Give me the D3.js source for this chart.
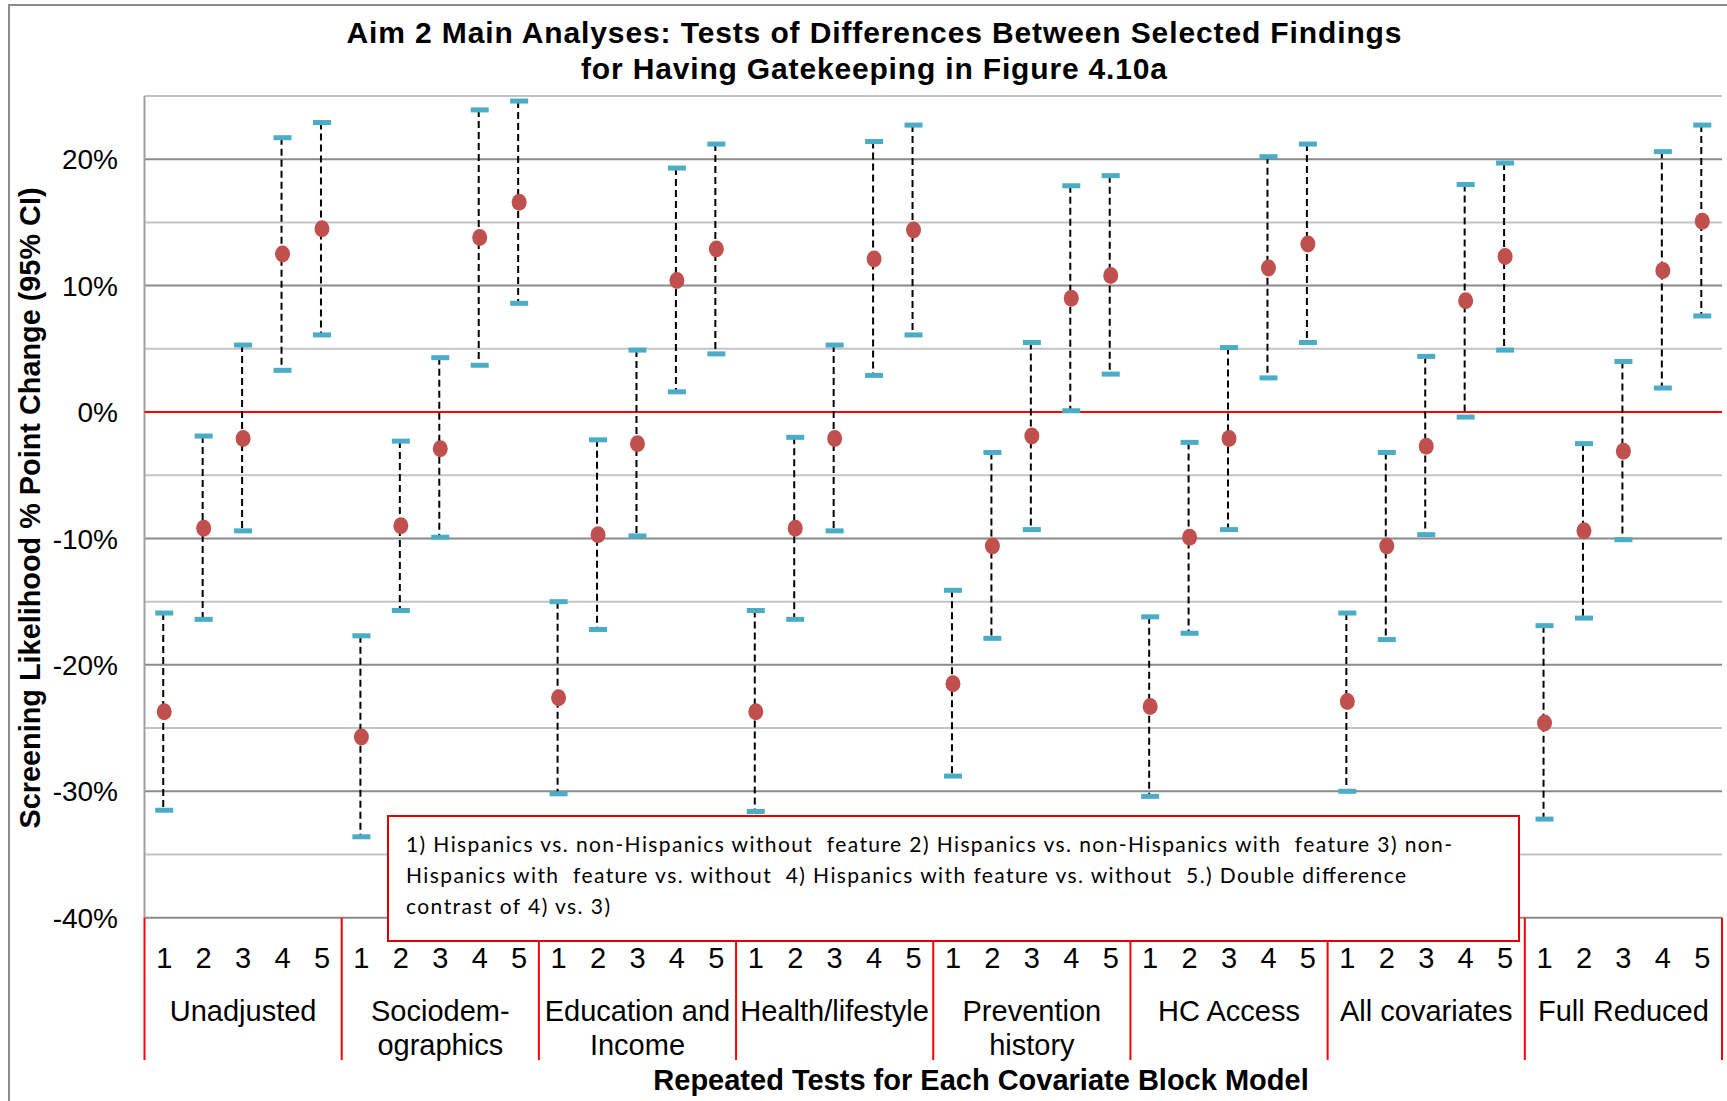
<!DOCTYPE html>
<html>
<head>
<meta charset="utf-8">
<script src="https://cdn.jsdelivr.net/npm/d3@7"></script>
<style>
  body { margin: 0; background: #fff; }
  svg { display: block; }
</style>
</head>
<body>
<div id="chart"></div>
<script>
// Covariate block models (x-axis groups)
const groups = ['Unadjusted', 'Sociodem-\nographics', 'Education and\nIncome', 'Health/lifestyle',
  'Prevention\nhistory', 'HC Access', 'All covariates', 'Full Reduced'];
const tests = ['1', '2', '3', '4', '5'];

// Point estimates (% point change), 5 tests per group
const estimates = [
  -23.7, -9.2, -2.1, 12.5, 14.5,
  -25.7, -9.0, -2.9, 13.8, 16.6,
  -22.6, -9.7, -2.5, 10.4, 12.9,
  -23.7, -9.2, -2.1, 12.1, 14.4,
  -21.5, -10.6, -1.9, 9.0, 10.8,
  -23.3, -9.9, -2.1, 11.4, 13.3,
  -22.9, -10.6, -2.7, 8.8, 12.3,
  -24.6, -9.4, -3.1, 11.2, 15.1
];
// Lower 95% CI bounds
const lowerCI = [
  -31.5, -16.4, -9.4, 3.3, 6.1,
  -33.6, -15.7, -9.9, 3.7, 8.6,
  -30.2, -17.2, -9.8, 1.6, 4.6,
  -31.6, -16.4, -9.4, 2.9, 6.1,
  -28.8, -17.9, -9.3, 0.1, 3.0,
  -30.4, -17.5, -9.3, 2.7, 5.5,
  -30.0, -18.0, -9.7, -0.4, 4.9,
  -32.2, -16.3, -10.1, 1.9, 7.6
];
// Upper 95% CI bounds
const upperCI = [
  -15.9, -1.9, 5.3, 21.7, 22.9,
  -17.7, -2.3, 4.3, 23.9, 24.6,
  -15.0, -2.2, 4.9, 19.3, 21.2,
  -15.7, -2.0, 5.3, 21.4, 22.7,
  -14.1, -3.2, 5.5, 17.9, 18.7,
  -16.2, -2.4, 5.1, 20.2, 21.2,
  -15.9, -3.2, 4.4, 18.0, 19.7,
  -16.9, -2.5, 4.0, 20.6, 22.7
];

const yTicks = [20, 10, 0, -10, -20, -30, -40];
const yGrid = [25, 20, 15, 10, 5, -5, -10, -15, -20, -25, -30, -35, -40];

const legendLines = [
  '1) Hispanics vs. non-Hispanics without  feature 2) Hispanics vs. non-Hispanics with  feature 3) non-',
  'Hispanics with  feature vs. without  4) Hispanics with feature vs. without  5.) Double difference',
  'contrast of 4) vs. 3)'
];
const legendWidths = [1046, 1000, 204];

// Build one record per error bar
const data = estimates.map((v, i) => ({
  id: i,
  group: groups[Math.floor(i / 5)],
  test: tests[i % 5],
  est: v,
  lo: lowerCI[i],
  hi: upperCI[i]
}));

const width = 1727;
const height = 1101;
const plot = {left: 144.5, right: 1722, top: 96, bottom: 917.7};

const svg = d3.select('#chart')
  .append('svg')
  .attr('width', width)
  .attr('height', height)
  .style('font-family', '"Liberation Sans", Arial, sans-serif');

const yScale = d3.scaleLinear()
  .domain([-40, 25])
  .range([plot.bottom, plot.top]);

const xScale = d3.scaleBand()
  .domain(data.map(d => d.id))
  .range([plot.left, plot.right])
  .padding(0);

const groupScale = d3.scaleBand()
  .domain(groups)
  .range([plot.left, plot.right])
  .padding(0);

// outer chart frame
svg.append('path')
  .attr('d', `M9,${height} V5 H${width}`)
  .attr('fill', 'none')
  .attr('stroke', '#8c8c8c')
  .attr('stroke-width', 2);

// Gridlines
svg.append('g')
  .selectAll('line')
  .data(yGrid)
  .join('line')
  .attr('x1', plot.left)
  .attr('x2', plot.right)
  .attr('y1', d => yScale(d))
  .attr('y2', d => yScale(d))
  .attr('stroke', d => d % 10 === 0 ? '#8a8a8a' : '#c4c4c4')
  .attr('stroke-width', 2);

// left axis line
svg.append('line')
  .attr('x1', plot.left).attr('x2', plot.left)
  .attr('y1', plot.top).attr('y2', plot.bottom)
  .attr('stroke', '#a0a0a0')
  .attr('stroke-width', 2);

// Zero reference line
svg.append('line')
  .attr('x1', plot.left).attr('x2', plot.right)
  .attr('y1', yScale(0)).attr('y2', yScale(0))
  .attr('stroke', '#ff0000')
  .attr('stroke-width', 2);

// y tick labels
svg.append('g')
  .selectAll('text')
  .data(yTicks)
  .join('text')
  .attr('x', 118)
  .attr('y', d => yScale(d))
  .attr('dy', '0.36em')
  .attr('text-anchor', 'end')
  .style('font-size', '28px')
  .text(d => d + '%');

// Group separators (red)
const sepX = groups.map(g => groupScale(g)).concat([plot.right]);
svg.append('g')
  .selectAll('line')
  .data(sepX)
  .join('line')
  .attr('x1', d => d).attr('x2', d => d)
  .attr('y1', plot.bottom).attr('y2', 1060)
  .attr('stroke', '#ff0000')
  .attr('stroke-width', 2);

// Legend box
const legend = svg.append('g');
legend.append('rect')
  .attr('x', 388)
  .attr('y', 816)
  .attr('width', 1131)
  .attr('height', 125)
  .attr('fill', '#fff')
  .attr('stroke', '#e00000')
  .attr('stroke-width', 2);
legend.selectAll('text')
  .data(legendLines)
  .join('text')
  .attr('x', 406)
  .attr('y', (d, i) => 852 + i * 31)
  .attr('textLength', (d, i) => legendWidths[i])
  .attr('lengthAdjust', 'spacing')
  .style('font-family', 'Lato, "Open Sans", sans-serif')
  .style('font-size', '21px')
  .style('white-space', 'pre')
  .text(d => d);

// Error bars: dashed whiskers
const bars = svg.append('g');
bars.selectAll('line')
  .data(data)
  .join('line')
  .attr('x1', d => xScale(d.id) + xScale.bandwidth() / 2 - 1)
  .attr('x2', d => xScale(d.id) + xScale.bandwidth() / 2 - 1)
  .attr('y1', d => yScale(d.hi))
  .attr('y2', d => yScale(d.lo))
  .attr('stroke', '#000')
  .attr('stroke-width', 2)
  .attr('stroke-dasharray', '7,4');

// CI caps
const caps = data.flatMap(d => [{id: d.id, v: d.lo}, {id: d.id, v: d.hi}]);
svg.append('g')
  .selectAll('rect')
  .data(caps)
  .join('rect')
  .attr('x', d => xScale(d.id) + xScale.bandwidth() / 2 - 9)
  .attr('y', d => yScale(d.v) - 2.5)
  .attr('width', 18)
  .attr('height', 5)
  .attr('fill', '#4bacc6');

// Point estimates
svg.append('g')
  .selectAll('ellipse')
  .data(data)
  .join('ellipse')
  .attr('cx', d => xScale(d.id) + xScale.bandwidth() / 2)
  .attr('cy', d => yScale(d.est))
  .attr('rx', 7.5)
  .attr('ry', 8.5)
  .attr('fill', '#c0504d');

// Test numbers under each bar
svg.append('g')
  .selectAll('text')
  .data(data)
  .join('text')
  .attr('x', d => xScale(d.id) + xScale.bandwidth() / 2)
  .attr('y', 968)
  .attr('text-anchor', 'middle')
  .style('font-size', '29px')
  .text(d => d.test);

// Group labels (may wrap over two lines)
svg.append('g')
  .selectAll('text')
  .data(groups)
  .join('text')
  .attr('x', d => groupScale(d) + groupScale.bandwidth() / 2)
  .attr('y', 1021)
  .attr('text-anchor', 'middle')
  .style('font-size', '29px')
  .each(function(d) {
    const parts = d.split('\n');
    d3.select(this).selectAll('tspan')
      .data(parts)
      .join('tspan')
      .attr('x', groupScale(d) + groupScale.bandwidth() / 2)
      .attr('dy', (p, i) => i === 0 ? 0 : 34)
      .text(p => p);
  });

// Axis titles
svg.append('text')
  .attr('x', 981)
  .attr('y', 1090)
  .attr('text-anchor', 'middle')
  .style('font-size', '29px')
  .style('font-weight', 'bold')
  .text('Repeated Tests for Each Covariate Block Model');

svg.append('text')
  .attr('transform', 'translate(40, 508) rotate(-90)')
  .attr('text-anchor', 'middle')
  .attr('textLength', 641)
  .attr('lengthAdjust', 'spacingAndGlyphs')
  .style('font-size', '29px')
  .style('font-weight', 'bold')
  .text('Screening Likelihood % Point Change (95% CI)');

// Chart title
const titleLines = ['Aim 2 Main Analyses: Tests of Differences Between Selected Findings',
  'for Having Gatekeeping in Figure 4.10a'];
const titleWidths = [1055, 586];
svg.append('g')
  .selectAll('text')
  .data(titleLines)
  .join('text')
  .attr('x', 874)
  .attr('y', (d, i) => 43 + i * 36)
  .attr('text-anchor', 'middle')
  .attr('textLength', (d, i) => titleWidths[i])
  .attr('lengthAdjust', 'spacing')
  .style('font-size', '30px')
  .style('font-weight', 'bold')
  .text(d => d);
</script>
</body>
</html>
